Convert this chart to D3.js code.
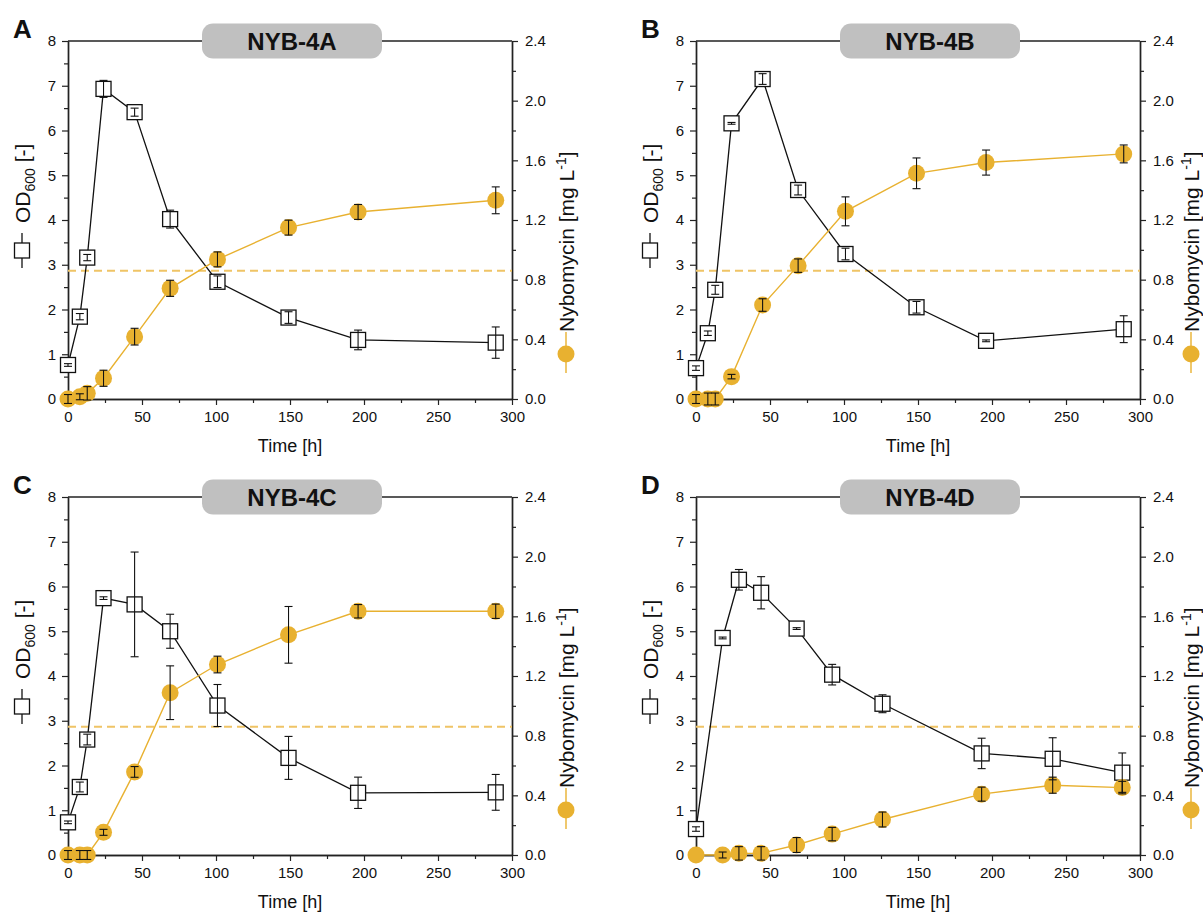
<!DOCTYPE html>
<html>
<head>
<meta charset="utf-8">
<script src="https://cdn.jsdelivr.net/npm/d3@7"></script>
<style>
  body { margin: 0; background: #fff; }
  text { font-family: "Liberation Sans", Arial, sans-serif; fill: #111; }
</style>
</head>
<body>
<div id="chart"></div>
<script>
//Width and height
const w = 1203;
const h = 913;

const panelLetters = ['A', 'B', 'C', 'D'];
const strainNames = ['NYB-4A', 'NYB-4B', 'NYB-4C', 'NYB-4D'];

// sampling times [h]
const timeABC = [0, 8, 13, 24, 45, 69, 101, 149, 196, 289];
const timeD = [0, 18, 29, 44, 68, 92, 126, 193, 241, 288];

// OD600 (mean, sd)
const odA = [0.76, 1.84, 3.16, 6.93, 6.41, 4.02, 2.62, 1.82, 1.32, 1.26];
const odErrA = [0.03, 0.07, 0.07, 0.19, 0.09, 0.2, 0.13, 0.13, 0.22, 0.35];
const odB = [0.69, 1.47, 2.44, 6.16, 7.15, 4.67, 3.24, 2.05, 1.3, 1.56];
const odErrB = [0.05, 0.05, 0.1, 0.02, 0.12, 0.11, 0.13, 0.13, 0.02, 0.3];
const odC = [0.73, 1.52, 2.58, 5.74, 5.6, 5.0, 3.34, 2.17, 1.39, 1.4];
const odErrC = [0.03, 0.11, 0.12, 0.03, 1.17, 0.38, 0.47, 0.48, 0.35, 0.4];
const odD = [0.58, 4.85, 6.15, 5.86, 5.06, 4.03, 3.38, 2.27, 2.15, 1.84];
const odErrD = [0.05, 0.02, 0.23, 0.36, 0.02, 0.23, 0.2, 0.34, 0.47, 0.44];

// Nybomycin [mg/L] (mean, sd)
const nybA = [0, 0.015, 0.038, 0.139, 0.418, 0.742, 0.936, 1.149, 1.254, 1.332];
const nybErrA = [0.03, 0.02, 0.045, 0.054, 0.056, 0.054, 0.05, 0.05, 0.05, 0.09];
const nybB = [0, 0, 0, 0.15, 0.63, 0.894, 1.258, 1.513, 1.585, 1.643];
const nybErrB = [0.03, 0.04, 0.04, 0.015, 0.042, 0.045, 0.097, 0.103, 0.084, 0.06];
const nybC = [0, 0, 0, 0.152, 0.557, 1.088, 1.277, 1.476, 1.634, 1.634];
const nybErrC = [0.03, 0.03, 0.03, 0.02, 0.036, 0.18, 0.056, 0.19, 0.045, 0.048];
const nybD = [0, 0, 0.011, 0.011, 0.067, 0.14, 0.238, 0.408, 0.468, 0.452];
const nybErrD = [0, 0.02, 0.045, 0.045, 0.05, 0.045, 0.05, 0.047, 0.054, 0.042];

const nybThreshold = 0.86;

// tick values
const timeTicks = [0, 50, 100, 150, 200, 250, 300];
const odTicks = [0, 1, 2, 3, 4, 5, 6, 7, 8];
const nybTicks = [0, 0.4, 0.8, 1.2, 1.6, 2.0, 2.4];

const orange = '#e8b130';

const panels = [
  {t: timeABC, od: odA, odErr: odErrA, nyb: nybA, nybErr: nybErrA},
  {t: timeABC, od: odB, odErr: odErrB, nyb: nybB, nybErr: nybErrB},
  {t: timeABC, od: odC, odErr: odErrC, nyb: nybC, nybErr: nybErrC},
  {t: timeD, od: odD, odErr: odErrD, nyb: nybD, nybErr: nybErrD}
];

const pw = 444, ph = 358;
const origins = [[68, 41], [696, 41], [68, 497], [696, 497]];
// title box centre and right title offset differ a bit between columns
const boxShift = [2, 12, 2, 12];
const rightTitleX = [54, 51, 54, 51];

//Create SVG element
const svg = d3.select('#chart')
      .append('svg')
      .attr('width', w)
      .attr('height', h);

svg.append('rect').attr('width', w).attr('height', h).attr('fill', '#fff');

const x = d3.scaleLinear().domain([0, 300]).range([0, pw]);
const yL = d3.scaleLinear().domain([0, 8]).range([ph, 0]);
const yR = d3.scaleLinear().domain([0, 2.4]).range([ph, 0]);

function styleAxis(g) {
  g.select('.domain').attr('stroke', '#222').attr('stroke-width', 1.4);
  g.selectAll('.tick line').attr('stroke', '#222').attr('stroke-width', 1.2);
  g.selectAll('.tick text')
    .attr('font-size', 15)
    .attr('font-family', '"Liberation Sans", Arial, sans-serif')
    .attr('fill', '#111');
}

function errorBars(g, data, xf, yf, cls) {
  const cap = 4;
  const eb = g.append('g').attr('class', cls)
    .attr('stroke', '#111').attr('stroke-width', 1.1);
  data.forEach(d => {
    if (!d.e) return;
    const cx = xf(d.t), y1 = yf(d.v + d.e), y2 = yf(d.v - d.e);
    eb.append('line').attr('x1', cx).attr('x2', cx).attr('y1', y1).attr('y2', y2);
    eb.append('line').attr('x1', cx - cap).attr('x2', cx + cap).attr('y1', y1).attr('y2', y1);
    eb.append('line').attr('x1', cx - cap).attr('x2', cx + cap).attr('y1', y2).attr('y2', y2);
  });
}

panels.forEach((p, i) => {
  const [ox, oy] = origins[i];
  const g = svg.append('g').attr('transform', `translate(${ox},${oy})`);

  // minor ticks
  g.append('g').attr('transform', `translate(0,${ph})`)
    .call(d3.axisBottom(x).tickValues(d3.range(25, 300, 50)).tickSize(4).tickFormat('').tickSizeOuter(0))
    .call(styleAxis);
  g.append('g')
    .call(d3.axisLeft(yL).tickValues(d3.range(0.5, 8, 1)).tickSize(4).tickFormat('').tickSizeOuter(0))
    .call(styleAxis);
  g.append('g').attr('transform', `translate(${pw},0)`)
    .call(d3.axisRight(yR).tickValues(d3.range(0.2, 2.4, 0.4)).tickSize(4).tickFormat('').tickSizeOuter(0))
    .call(styleAxis);

  // major axes
  g.append('g').attr('transform', `translate(0,${ph})`)
    .call(d3.axisBottom(x).tickValues(timeTicks).tickSize(6).tickPadding(6).tickSizeOuter(0))
    .call(styleAxis);
  g.append('g')
    .call(d3.axisLeft(yL).tickValues(odTicks).tickSize(6).tickPadding(6).tickSizeOuter(0))
    .call(styleAxis);
  g.append('g').attr('transform', `translate(${pw},0)`)
    .call(d3.axisRight(yR).tickValues(nybTicks).tickSize(6).tickPadding(7).tickFormat(d3.format('.1f')).tickSizeOuter(0))
    .call(styleAxis);

  // top frame
  g.append('line').attr('x1', 0).attr('x2', pw).attr('y1', 0).attr('y2', 0)
    .attr('stroke', '#222').attr('stroke-width', 1.4);

  // threshold line
  g.append('line')
    .attr('x1', 0).attr('x2', pw)
    .attr('y1', yR(nybThreshold)).attr('y2', yR(nybThreshold))
    .attr('stroke', '#efc466').attr('stroke-width', 2)
    .attr('stroke-dasharray', '8,5');

  const odData = p.t.map((t, k) => ({t: t, v: p.od[k], e: p.odErr[k]}));
  const nybData = p.t.map((t, k) => ({t: t, v: p.nyb[k], e: p.nybErr[k]}));

  // OD series
  g.append('path').datum(odData)
    .attr('fill', 'none').attr('stroke', '#111').attr('stroke-width', 1.3)
    .attr('d', d3.line().x(d => x(d.t)).y(d => yL(d.v)));
  g.selectAll('rect.od').data(odData).enter().append('rect')
    .attr('class', 'od')
    .attr('x', d => x(d.t) - 7.5).attr('y', d => yL(d.v) - 7.5)
    .attr('width', 15).attr('height', 15)
    .attr('fill', '#fff').attr('stroke', '#111').attr('stroke-width', 1.3);

  // nybomycin series
  g.append('path').datum(nybData)
    .attr('fill', 'none').attr('stroke', orange).attr('stroke-width', 1.4)
    .attr('d', d3.line().x(d => x(d.t)).y(d => yR(d.v)));
  g.selectAll('circle.nyb').data(nybData).enter().append('circle')
    .attr('class', 'nyb')
    .attr('cx', d => x(d.t)).attr('cy', d => yR(d.v))
    .attr('r', 8.5).attr('fill', orange);

  errorBars(g, odData, x, yL, 'od-err');
  errorBars(g, nybData, x, yR, 'nyb-err');

  // title box
  const tb = g.append('g').attr('transform', `translate(${pw / 2 + boxShift[i]},0)`);
  tb.append('rect').attr('x', -90).attr('y', -17.5).attr('width', 180).attr('height', 35)
    .attr('rx', 11).attr('fill', '#c0c0c0');
  tb.append('text').attr('text-anchor', 'middle').attr('dy', '0.36em')
    .attr('font-size', 24).attr('font-weight', 'bold')
    .text(strainNames[i]);

  // panel letter
  g.append('text').attr('x', -55).attr('y', -3)
    .attr('font-size', 26).attr('font-weight', 'bold')
    .text(panelLetters[i]);

  // x title
  g.append('text').attr('x', pw / 2).attr('y', ph + 53)
    .attr('text-anchor', 'middle').attr('font-size', 18)
    .text('Time [h]');

  // left title with legend symbol
  const lt = g.append('g').attr('transform', `translate(-46,227) rotate(-90)`);
  lt.append('line').attr('x1', 0).attr('x2', 35).attr('y1', 0).attr('y2', 0)
    .attr('stroke', '#111').attr('stroke-width', 1.3);
  lt.append('rect').attr('x', 10).attr('y', -7.5).attr('width', 15).attr('height', 15)
    .attr('fill', '#fff').attr('stroke', '#111').attr('stroke-width', 1.3);
  const ltx = lt.append('text').attr('x', 45).attr('y', 7.5).attr('font-size', 21);
  ltx.append('tspan').text('OD');
  ltx.append('tspan').attr('font-size', 14).attr('dy', 5).text('600');
  ltx.append('tspan').attr('dy', -5).text(' [-]');

  // right title with legend symbol
  const rt = g.append('g').attr('transform', `translate(${pw + rightTitleX[i]},291) rotate(-90)`);
  rt.append('line').attr('x1', -41).attr('x2', 0).attr('y1', 0).attr('y2', 0)
    .attr('stroke', orange).attr('stroke-width', 1.4);
  rt.append('circle').attr('cx', -22).attr('cy', 0).attr('r', 8.5).attr('fill', orange);
  const rtx = rt.append('text').attr('x', 0).attr('y', 7.5).attr('font-size', 21);
  rtx.append('tspan').text('Nybomycin [mg L');
  rtx.append('tspan').attr('font-size', 14).attr('dy', -8).text('-1');
  rtx.append('tspan').attr('dy', 8).text(']');
});
</script>
</body>
</html>
